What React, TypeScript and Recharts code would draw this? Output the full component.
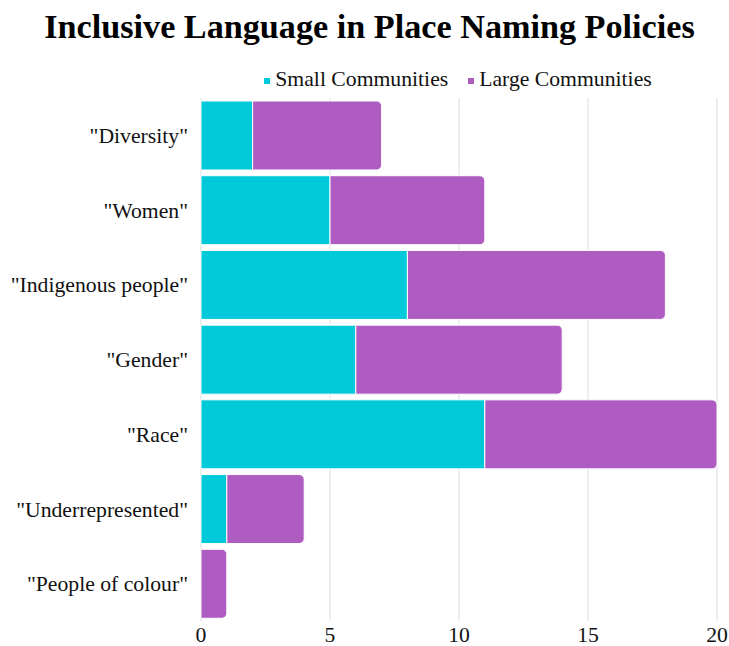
import { BarChart, Bar, XAxis, YAxis, CartesianGrid } from "recharts"

const categories = ['"Diversity"', '"Women"', '"Indigenous people"', '"Gender"', '"Race"', '"Underrepresented"', '"People of colour"']
const smallCommunities = [2, 5, 8, 6, 11, 1, 0]
const largeCommunities = [5, 6, 10, 8, 9, 3, 1]
const xTicks = [0, 5, 10, 15, 20]

const data = categories.map((name, i) => ({ name, small: smallCommunities[i], large: largeCommunities[i] }))

const font = '"Liberation Serif", "Times New Roman", serif'
const TEAL = "#00C9DA"
const PURPLE = "#AF5CC2"

const legendItems = [
  { label: "Small Communities", color: TEAL },
  { label: "Large Communities", color: PURPLE },
]

export default function App() {
  return (
    <div style={{ position: "absolute", left: 0, top: 0, width: 729, height: 646, background: "#fff", fontFamily: font }}>
      <div style={{ position: "absolute", top: 10, left: 5, width: 729, textAlign: "center", fontSize: 34.2, lineHeight: "34px", fontWeight: 700, color: "#000" }}>
        Inclusive Language in Place Naming Policies
      </div>
      <div style={{ position: "absolute", top: 69, left: 200, width: 516, display: "flex", justifyContent: "center", fontSize: 21.7, lineHeight: "21px", color: "#111" }}>
        {legendItems.map((it) => (
          <div key={it.label} style={{ display: "flex", alignItems: "center", margin: "0 10px" }}>
            <span style={{ display: "inline-block", width: 6, height: 6, background: it.color, marginRight: 5, marginTop: 2 }} />
            {it.label}
          </div>
        ))}
      </div>
      <BarChart
        width={729}
        height={646}
        data={data}
        layout="vertical"
        barCategoryGap={3}
        margin={{ top: 98, right: 12, bottom: 0, left: 0 }}
        style={{ position: "absolute", left: 0, top: 0 }}
      >
        <CartesianGrid horizontal={false} stroke="#dddddd" />
        <XAxis
          type="number"
          domain={[0, 20]}
          ticks={xTicks}
          axisLine={false}
          tickLine={false}
          tickSize={0}
          tickMargin={6}
          height={25}
          tick={{ fill: "#111", fontSize: 21.7, fontFamily: font }}
        />
        <YAxis
          type="category"
          dataKey="name"
          width={201}
          axisLine={false}
          tickLine={false}
          tickSize={0}
          tickMargin={13}
          tick={{ fill: "#111", fontSize: 21.7, fontFamily: font }}
        />
        <Bar dataKey="small" stackId="a" fill={TEAL} stroke="#fff" strokeWidth={1} isAnimationActive={false} />
        <Bar dataKey="large" stackId="a" fill={PURPLE} stroke="#fff" strokeWidth={1} radius={[0, 5, 5, 0]} isAnimationActive={false} />
      </BarChart>
    </div>
  )
}
